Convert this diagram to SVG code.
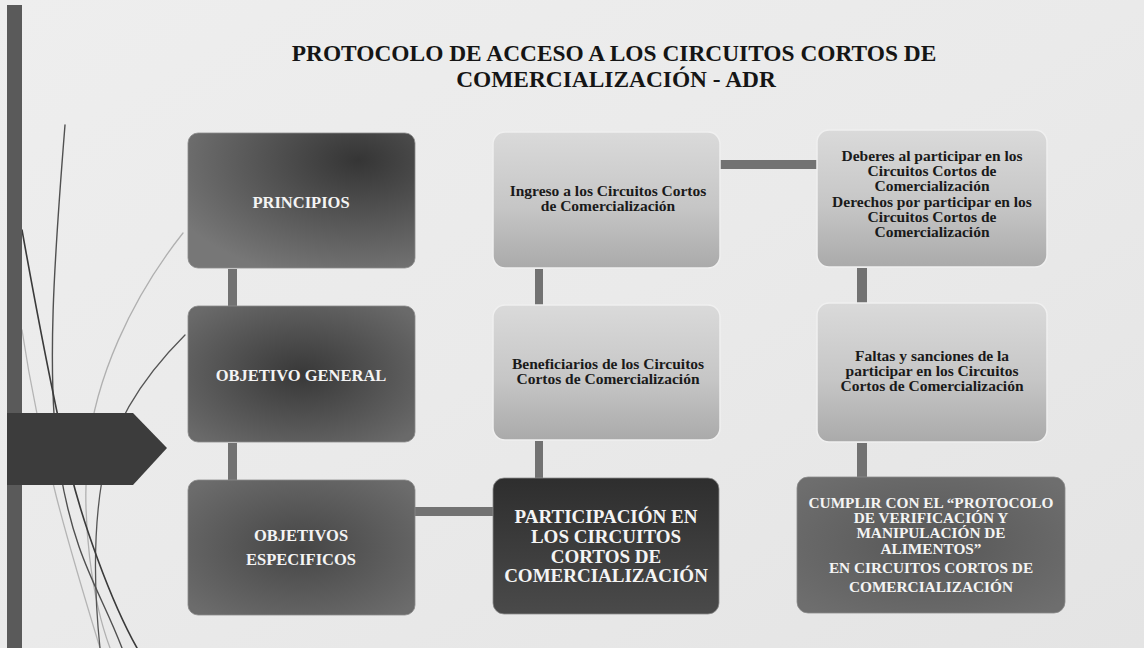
<svg xmlns="http://www.w3.org/2000/svg" width="1144" height="648" viewBox="0 0 1144 648">
  <defs>
    <linearGradient id="bg" x1="0" y1="0" x2="1" y2="1">
      <stop offset="0" stop-color="#eeeeee"/>
      <stop offset="0.5" stop-color="#eaeaea"/>
      <stop offset="1" stop-color="#e4e4e4"/>
    </linearGradient>
    <radialGradient id="darkA" cx="0.75" cy="0.2" r="0.9">
      <stop offset="0" stop-color="#353535"/>
      <stop offset="1" stop-color="#777777"/>
    </radialGradient>
    <radialGradient id="darkB" cx="0.5" cy="0.5" r="0.65">
      <stop offset="0" stop-color="#383838"/>
      <stop offset="1" stop-color="#6a6a6a"/>
    </radialGradient>
    <radialGradient id="darkC" cx="0.5" cy="0.5" r="0.65">
      <stop offset="0" stop-color="#464646"/>
      <stop offset="1" stop-color="#6c6c6c"/>
    </radialGradient>
    <linearGradient id="light" x1="0" y1="0" x2="0" y2="1">
      <stop offset="0" stop-color="#dadada"/>
      <stop offset="0.55" stop-color="#c6c6c6"/>
      <stop offset="1" stop-color="#aaaaaa"/>
    </linearGradient>
    <linearGradient id="darkest" x1="0" y1="0" x2="0" y2="1">
      <stop offset="0" stop-color="#2e2e2e"/>
      <stop offset="1" stop-color="#4a4a4a"/>
    </linearGradient>
    <radialGradient id="mid" cx="0.5" cy="0.5" r="0.65">
      <stop offset="0" stop-color="#575757"/>
      <stop offset="1" stop-color="#6e6e6e"/>
    </radialGradient>
  </defs>
  <style>
    .title { font-family: "Liberation Serif", "Times New Roman", serif; font-weight: bold; font-size: 23.4px; fill: #151515; text-anchor: middle; }
    .caps { font-family: "Liberation Serif", "Times New Roman", serif; font-weight: bold; fill: #f4f4f4; text-anchor: middle; }
    .low { font-family: "Liberation Serif", "Times New Roman", serif; font-weight: bold; font-size: 15.5px; fill: #1a1a1a; text-anchor: middle; }
    .lbox { stroke: #f0f0f0; stroke-width: 1.5; }
    .dbox { stroke: #8a8a8a; stroke-width: 0.8; }
    .conn { fill: #727272; }
    .deco { fill: none; stroke-linecap: round; }
  </style>

  <!-- background -->
  <rect x="0" y="0" width="1144" height="648" fill="url(#bg)"/>

  <!-- decorative wisps -->
  <g id="decoration">
    <path class="deco" d="M22,330 C40,450 70,550 100,648" stroke="#b4b4b4" stroke-width="1.3"/>
    <path class="deco" d="M183,233 C130,300 95,380 88,450 S92,600 110,648" stroke="#b0b0b0" stroke-width="1.3"/>
    <path class="deco" d="M185,335 C150,370 112,420 102,480 S95,600 100,648" stroke="#555555" stroke-width="1.3"/>
    <path class="deco" d="M65,125 C55,250 45,380 60,470 S100,590 122,648" stroke="#505050" stroke-width="1.4"/>
    <path class="deco" d="M22,230 C40,330 58,420 70,470 S110,600 137,648" stroke="#3a3a3a" stroke-width="1.6"/>
  </g>

  <!-- left bar and arrow -->
  <rect x="7" y="5" width="15" height="643" fill="#5a5a5a"/>
  <polygon points="7,413 133,413 167,448 133,485 7,485" fill="#3c3c3c"/>

  <!-- title -->
  <text class="title" x="614" y="61">PROTOCOLO DE ACCESO A LOS CIRCUITOS CORTOS DE</text>
  <text class="title" x="616" y="87">COMERCIALIZACIÓN - ADR</text>

  <!-- connectors -->
  <g id="connectors">
    <rect class="conn" x="228" y="269" width="9" height="37"/>
    <rect class="conn" x="228" y="443" width="9" height="37"/>
    <rect class="conn" x="535" y="269" width="8" height="36"/>
    <rect class="conn" x="535" y="441" width="8" height="37"/>
    <rect class="conn" x="857" y="268" width="10" height="35"/>
    <rect class="conn" x="857" y="443" width="10" height="34"/>
    <rect class="conn" x="720" y="160" width="97" height="9"/>
    <rect class="conn" x="415" y="507" width="78" height="9"/>
  </g>

  <!-- column 1 -->
  <g id="principios">
    <rect class="dbox" x="188" y="133" width="227" height="135" rx="10" fill="url(#darkA)"/>
    <text class="caps" x="301" y="208" font-size="16.5">PRINCIPIOS</text>
  </g>
  <g id="objetivo-general">
    <rect class="dbox" x="188" y="306" width="227" height="136" rx="10" fill="url(#darkB)"/>
    <text class="caps" x="301" y="381" font-size="16.5">OBJETIVO GENERAL</text>
  </g>
  <g id="objetivos-especificos">
    <rect class="dbox" x="188" y="480" width="227" height="135" rx="10" fill="url(#darkC)"/>
    <text class="caps" x="301" y="541" font-size="16.5">OBJETIVOS</text>
    <text class="caps" x="301" y="565" font-size="16.5">ESPECIFICOS</text>
  </g>

  <!-- column 2 -->
  <g id="ingreso">
    <rect class="lbox" x="493" y="132" width="227" height="136" rx="12" fill="url(#light)"/>
    <text class="low" x="608" y="196">Ingreso a los Circuitos Cortos</text>
    <text class="low" x="608" y="211">de Comercialización</text>
  </g>
  <g id="beneficiarios">
    <rect class="lbox" x="493" y="305" width="227" height="135" rx="12" fill="url(#light)"/>
    <text class="low" x="608" y="369">Beneficiarios de los Circuitos</text>
    <text class="low" x="608" y="384">Cortos de Comercialización</text>
  </g>
  <g id="participacion">
    <rect class="dbox" x="493" y="478" width="226" height="136" rx="11" fill="url(#darkest)"/>
    <text class="caps" x="606" y="523" font-size="19">PARTICIPACIÓN EN</text>
    <text class="caps" x="606" y="543" font-size="19">LOS CIRCUITOS</text>
    <text class="caps" x="606" y="563" font-size="19">CORTOS DE</text>
    <text class="caps" x="606" y="582" font-size="19">COMERCIALIZACIÓN</text>
  </g>

  <!-- column 3 -->
  <g id="deberes-derechos">
    <rect class="lbox" x="817" y="130" width="230" height="137" rx="12" fill="url(#light)"/>
    <text class="low" x="932" y="161">Deberes al participar en los</text>
    <text class="low" x="932" y="176">Circuitos Cortos de</text>
    <text class="low" x="932" y="191">Comercialización</text>
    <text class="low" x="932" y="207">Derechos por participar en los</text>
    <text class="low" x="932" y="222">Circuitos Cortos de</text>
    <text class="low" x="932" y="237">Comercialización</text>
  </g>
  <g id="faltas">
    <rect class="lbox" x="817" y="303" width="230" height="139" rx="12" fill="url(#light)"/>
    <text class="low" x="932" y="361">Faltas y sanciones de la</text>
    <text class="low" x="932" y="376">participar en los Circuitos</text>
    <text class="low" x="932" y="391">Cortos de Comercialización</text>
  </g>
  <g id="cumplir">
    <rect class="dbox" x="797" y="477" width="268" height="136" rx="11" fill="url(#mid)"/>
    <text class="caps" x="931" y="508" font-size="15.3">CUMPLIR CON EL “PROTOCOLO</text>
    <text class="caps" x="931" y="523" font-size="15.3">DE VERIFICACIÓN Y</text>
    <text class="caps" x="931" y="538" font-size="15.3">MANIPULACIÓN DE</text>
    <text class="caps" x="931" y="554" font-size="15.3">ALIMENTOS”</text>
    <text class="caps" x="931" y="573" font-size="15.3">EN CIRCUITOS CORTOS DE</text>
    <text class="caps" x="931" y="592" font-size="15.3">COMERCIALIZACIÓN</text>
  </g>
</svg>
